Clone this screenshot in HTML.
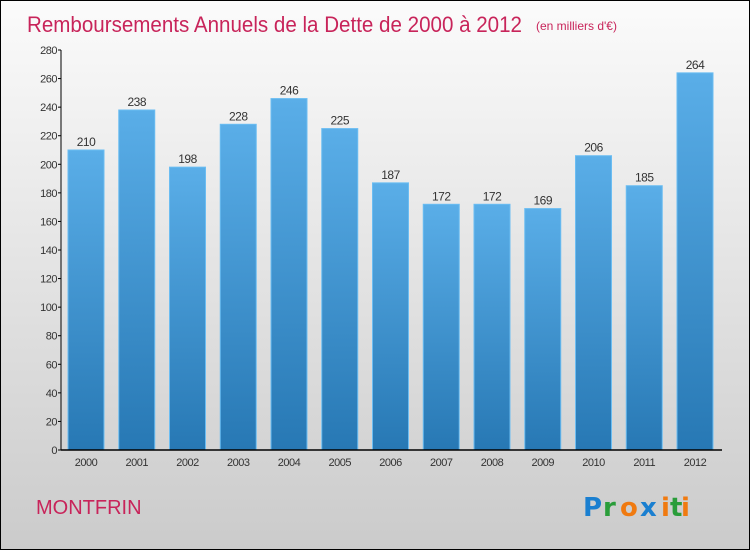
<!DOCTYPE html>
<html><head><meta charset="utf-8"><style>
html,body{margin:0;padding:0;width:750px;height:550px;overflow:hidden}
svg{display:block;font-family:"Liberation Sans",sans-serif}
</style></head><body>
<svg id="chart" width="750" height="550" viewBox="0 0 750 550">
<defs>
<linearGradient id="bg" x1="0" y1="0" x2="0" y2="1"><stop offset="0" stop-color="#fbfbfb"/><stop offset="1" stop-color="#cbcbcb"/></linearGradient>
<linearGradient id="bar" x1="0" y1="0" x2="0" y2="1"><stop offset="0" stop-color="#5aaee8"/><stop offset="1" stop-color="#2778b4"/></linearGradient>
</defs>
<rect x="0.5" y="0.5" width="749" height="549" fill="url(#bg)" stroke="#000"/>
<text x="27" y="32" font-size="22" fill="#c8245a" textLength="495" lengthAdjust="spacingAndGlyphs">Remboursements Annuels de la Dette de 2000 à 2012</text>
<text x="536" y="30" font-size="12" fill="#c8245a">(en milliers d'€)</text>
<g id="yaxis"></g>
<g id="bars"></g>
<g id="xaxis"></g>
<text x="36" y="514" font-size="20" fill="#c8245a">MONTFRIN</text>
<g font-size="26" font-weight="bold" font-family="'DejaVu Sans',sans-serif">
<text x="583" y="516" fill="#1a7fd0">P</text><text x="603" y="516" fill="#2a9d3a">r</text><text x="620" y="516" fill="#f07a10">o</text><text x="640" y="516" fill="#1a7fd0">x</text><text x="661" y="516" fill="#f07a10">i</text><text x="670" y="516" fill="#2a9d3a">t</text><text x="681" y="516" fill="#f07a10">i</text>
</g>
</svg>
<script>
const categories=["2000","2001","2002","2003","2004","2005","2006","2007","2008","2009","2010","2011","2012"];
const values=[210,238,198,228,246,225,187,172,172,169,206,185,264];
const yTicks=[0,20,40,60,80,100,120,140,160,180,200,220,240,260,280];
const NS="http://www.w3.org/2000/svg";
const y0=450,y1=50,vmax=280,x0=86,step=50.75,bw=36;
const ys=v=>y0-(v/vmax)*(y0-y1);
const xs=i=>x0+i*step;
function mk(t,a,p){const e=document.createElementNS(NS,t);for(const k in a)e.setAttribute(k,a[k]);p.appendChild(e);return e;}
const ya=document.getElementById('yaxis'),ba=document.getElementById('bars'),xa=document.getElementById('xaxis');
const yl=mk('line',{x1:61,y1:y1,x2:61,y2:y0,stroke:'#000','stroke-width':1},ya);


yTicks.forEach(v=>{
 const tk=mk('line',{x1:58,x2:61,y1:ys(v),y2:ys(v),stroke:'#000'},ya);
 
 
 const t=mk('text',{x:57,y:ys(v)+4,'font-size':11,fill:'#333','text-anchor':'end','letter-spacing':'-0.5'},ya);
 
 
 t.textContent=v;
});
values.forEach((v,i)=>{
 const r=mk('rect',{x:xs(i)-bw/2,y:ys(v),width:bw,height:y0-ys(v),fill:'url(#bar)',stroke:'#6bbdf2','stroke-width':1},ba);
 
 
 const t=mk('text',{x:xs(i),y:ys(v)-4,'font-size':12,fill:'#333','text-anchor':'middle','letter-spacing':'-0.5'},ba);
 
 
 t.textContent=v;
});
const xl=mk('line',{x1:61,y1:y0,x2:722,y2:y0,stroke:'#000','stroke-width':1.5},xa);


categories.forEach((c,i)=>{
 const t=mk('text',{x:xs(i),y:466,'font-size':11,fill:'#333','text-anchor':'middle','letter-spacing':'-0.5'},xa);
 
 
 t.textContent=c;
});
</script>
</body></html>
